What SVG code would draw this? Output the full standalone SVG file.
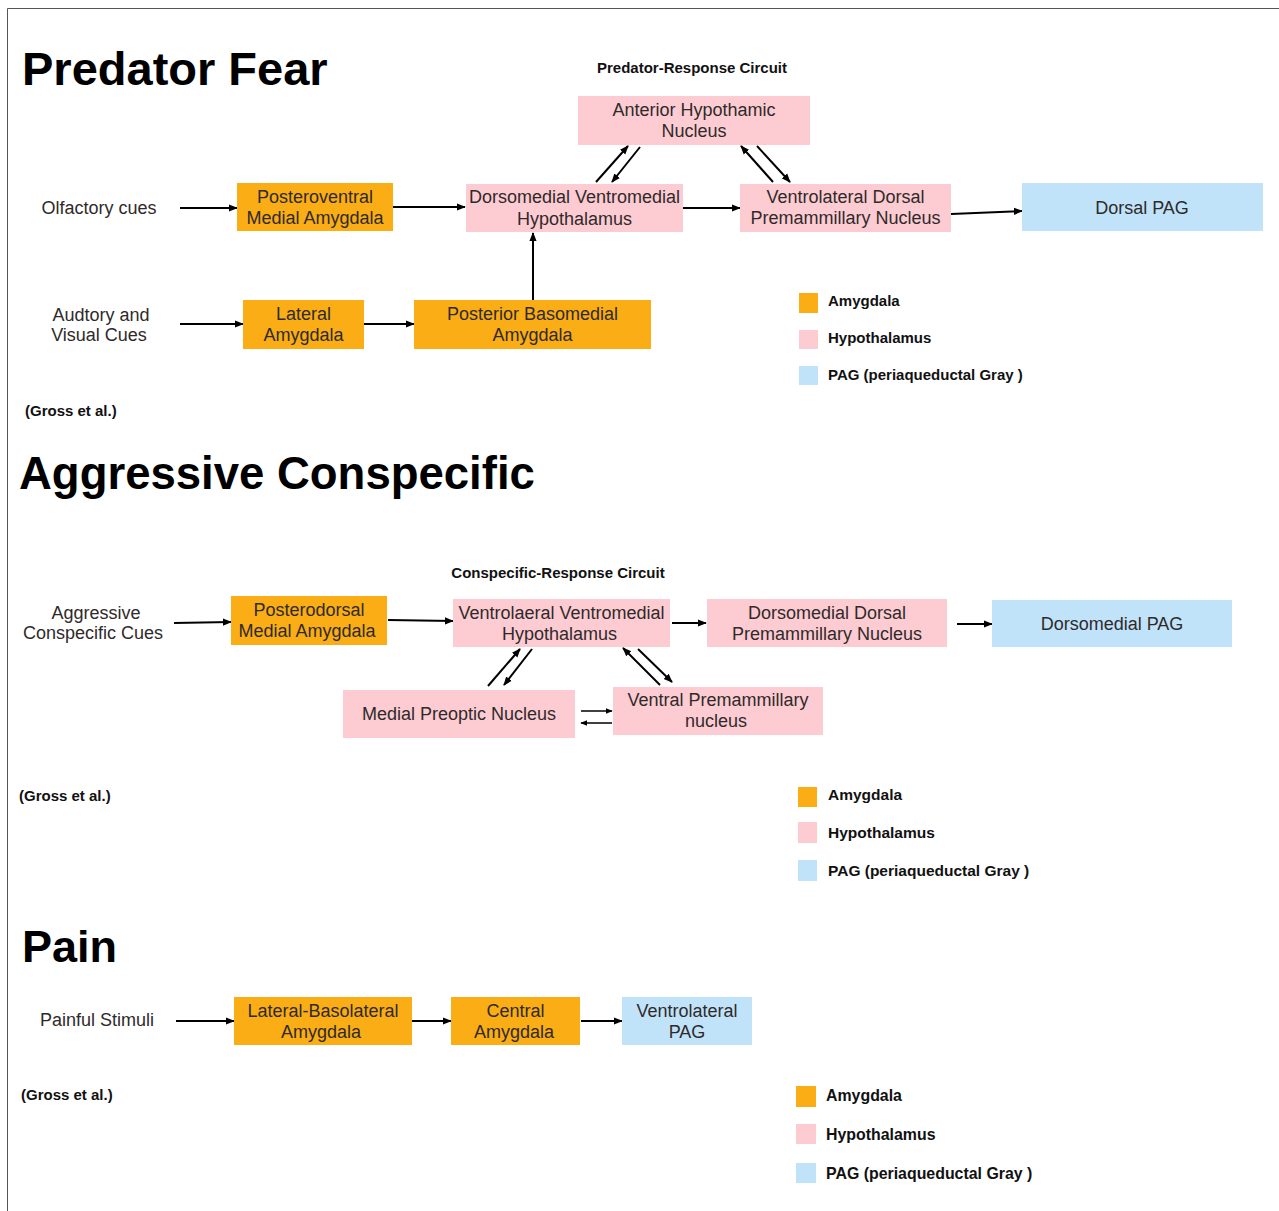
<svg xmlns="http://www.w3.org/2000/svg" width="1279" height="1211" viewBox="0 0 1279 1211">
<defs>
<style>
.t{font-family:"Liberation Sans",Arial,sans-serif;font-size:18px;fill:#2f2a2a;text-anchor:middle}
.h{font-family:"Liberation Sans",Arial,sans-serif;font-weight:bold;fill:#000}
.b{font-family:"Liberation Sans",Arial,sans-serif;font-weight:bold;font-size:15px;fill:#111}
.l2{font-size:15.5px}
.l3{font-size:15.9px}
.am{fill:#FAAD14}
.hy{fill:#FDCCD2}
.pag{fill:#C0E3FA}
.e{stroke:#000;stroke-width:2;fill:none;marker-end:url(#ah)}
.es{stroke:#000;stroke-width:1.5;fill:none;marker-end:url(#ahs)}
</style>
<marker id="ah" viewBox="0 0 10 10" refX="9" refY="5" markerWidth="9" markerHeight="9" markerUnits="userSpaceOnUse" orient="auto"><path d="M0,1 L10,5 L0,9 z" fill="#000"/></marker>
<marker id="ahs" viewBox="0 0 10 10" refX="9" refY="5" markerWidth="7" markerHeight="7" markerUnits="userSpaceOnUse" orient="auto"><path d="M0,1 L10,5 L0,9 z" fill="#000"/></marker>
</defs>
<rect x="0" y="0" width="1279" height="1211" fill="#fff"/>
<path d="M7.5,1211 V8.5 H1279" fill="none" stroke="#555" stroke-width="1"/>

<!-- Section titles -->
<text class="h" x="22" y="85" font-size="47">Predator Fear</text>
<text class="h" x="19" y="489" font-size="45.5">Aggressive Conspecific</text>
<text class="h" x="22" y="962" font-size="45">Pain</text>
<text class="b" x="692" y="73" text-anchor="middle">Predator-Response Circuit</text>
<text class="b" x="558" y="578" text-anchor="middle">Conspecific-Response Circuit</text>
<text class="b" x="25" y="416">(Gross et al.)</text>
<text class="b" x="19" y="801">(Gross et al.)</text>
<text class="b" x="21" y="1100">(Gross et al.)</text>

<!-- Connectors -->
<g id="connectors">
<line class="e" x1="180" y1="208" x2="237" y2="208"/>
<line class="e" x1="393" y1="207" x2="465" y2="207"/>
<line class="e" x1="683" y1="208" x2="740" y2="208"/>
<line class="e" x1="951" y1="214" x2="1022" y2="211"/>
<line class="e" x1="596" y1="182" x2="628" y2="146"/>
<line class="e" x1="640" y1="147" x2="612" y2="182"/>
<line class="e" x1="773" y1="182" x2="741" y2="146"/>
<line class="e" x1="757" y1="146" x2="790" y2="182"/>
<line class="e" x1="533" y1="300" x2="533" y2="233"/>
<line class="e" x1="180" y1="324" x2="243" y2="324"/>
<line class="e" x1="364" y1="324" x2="414" y2="324"/>

<line class="e" x1="174" y1="623" x2="231" y2="622"/>
<line class="e" x1="388" y1="620" x2="453" y2="621"/>
<line class="e" x1="672" y1="623" x2="706" y2="623"/>
<line class="e" x1="957" y1="624" x2="992" y2="624"/>
<line class="e" x1="488" y1="686" x2="520" y2="649"/>
<line class="e" x1="532" y1="649" x2="504" y2="685"/>
<line class="e" x1="660" y1="685" x2="623" y2="648"/>
<line class="e" x1="638" y1="649" x2="672" y2="682"/>
<line class="es" x1="581" y1="711" x2="612" y2="711"/>
<line class="es" x1="612" y1="723" x2="581" y2="723"/>

<line class="e" x1="176" y1="1021" x2="234" y2="1021"/>
<line class="e" x1="412" y1="1021" x2="451" y2="1021"/>
<line class="e" x1="581" y1="1021" x2="622" y2="1021"/>
</g>

<!-- Predator Fear nodes -->
<g id="olfactory"><text class="t" x="99" y="214">Olfactory cues</text></g>
<g id="pvma"><rect class="am" x="237" y="183" width="156" height="48"/><text class="t" x="315" y="203">Posteroventral</text><text class="t" x="315" y="224">Medial Amygdala</text></g>
<g id="dmvmh"><rect class="hy" x="466" y="184" width="217" height="48"/><text class="t" x="574.5" y="203">Dorsomedial Ventromedial</text><text class="t" x="574.5" y="225">Hypothalamus</text></g>
<g id="vldpn"><rect class="hy" x="740" y="184" width="211" height="48"/><text class="t" x="845.5" y="203">Ventrolateral Dorsal</text><text class="t" x="845.5" y="224">Premammillary Nucleus</text></g>
<g id="dpag"><rect class="pag" x="1022" y="183" width="241" height="48"/><text class="t" x="1142" y="214">Dorsal PAG</text></g>
<g id="ahn"><rect class="hy" x="578" y="96" width="232" height="49"/><text class="t" x="694" y="116">Anterior Hypothamic</text><text class="t" x="694" y="137">Nucleus</text></g>
<g id="auditory"><text class="t" x="101" y="321">Audtory and</text><text class="t" x="99" y="341">Visual Cues</text></g>
<g id="la"><rect class="am" x="243" y="300" width="121" height="49"/><text class="t" x="303.5" y="320">Lateral</text><text class="t" x="303.5" y="341">Amygdala</text></g>
<g id="pbma"><rect class="am" x="414" y="300" width="237" height="49"/><text class="t" x="532.5" y="320">Posterior Basomedial</text><text class="t" x="532.5" y="341">Amygdala</text></g>
<g id="legend1">
<rect class="am" x="799" y="293" width="19" height="20"/><text class="b" x="828" y="306">Amygdala</text>
<rect class="hy" x="799" y="330" width="19" height="19"/><text class="b" x="828" y="343">Hypothalamus</text>
<rect class="pag" x="799" y="366" width="19" height="19"/><text class="b" x="828" y="380">PAG (periaqueductal Gray )</text>
</g>

<!-- Aggressive Conspecific nodes -->
<g id="acc"><text class="t" x="96" y="619">Aggressive</text><text class="t" x="93" y="639">Conspecific Cues</text></g>
<g id="pdma"><rect class="am" x="231" y="596" width="156" height="49"/><text class="t" x="309" y="616">Posterodorsal</text><text class="t" x="307" y="637">Medial Amygdala</text></g>
<g id="vlvmh"><rect class="hy" x="453" y="599" width="217" height="48"/><text class="t" x="561.5" y="619">Ventrolaeral Ventromedial</text><text class="t" x="559.5" y="640">Hypothalamus</text></g>
<g id="dmdpn"><rect class="hy" x="707" y="599" width="240" height="48"/><text class="t" x="827" y="619">Dorsomedial Dorsal</text><text class="t" x="827" y="640">Premammillary Nucleus</text></g>
<g id="dmpag"><rect class="pag" x="992" y="600" width="240" height="47"/><text class="t" x="1112" y="630">Dorsomedial PAG</text></g>
<g id="mpn"><rect class="hy" x="343" y="690" width="232" height="48"/><text class="t" x="459" y="720">Medial Preoptic Nucleus</text></g>
<g id="vpn"><rect class="hy" x="613" y="687" width="210" height="48"/><text class="t" x="718" y="706">Ventral Premammillary</text><text class="t" x="716" y="727">nucleus</text></g>
<g id="legend2">
<rect class="am" x="798" y="787" width="19" height="20"/><text class="b l2" x="828" y="800">Amygdala</text>
<rect class="hy" x="798" y="822" width="19" height="21"/><text class="b l2" x="828" y="838">Hypothalamus</text>
<rect class="pag" x="798" y="860" width="19" height="21"/><text class="b l2" x="828" y="876">PAG (periaqueductal Gray )</text>
</g>

<!-- Pain nodes -->
<g id="painful"><text class="t" x="97" y="1026">Painful Stimuli</text></g>
<g id="lba"><rect class="am" x="234" y="997" width="178" height="48"/><text class="t" x="323" y="1017">Lateral-Basolateral</text><text class="t" x="321" y="1038">Amygdala</text></g>
<g id="ca"><rect class="am" x="451" y="997" width="129" height="48"/><text class="t" x="515.5" y="1017">Central</text><text class="t" x="514" y="1038">Amygdala</text></g>
<g id="vlpag"><rect class="pag" x="622" y="997" width="130" height="48"/><text class="t" x="687" y="1017">Ventrolateral</text><text class="t" x="687" y="1038">PAG</text></g>
<g id="legend3">
<rect class="am" x="796" y="1086" width="20" height="21"/><text class="b l3" x="826" y="1101">Amygdala</text>
<rect class="hy" x="796" y="1124" width="20" height="20"/><text class="b l3" x="826" y="1140">Hypothalamus</text>
<rect class="pag" x="796" y="1163" width="20" height="20"/><text class="b l3" x="826" y="1179">PAG (periaqueductal Gray )</text>
</g>
</svg>
